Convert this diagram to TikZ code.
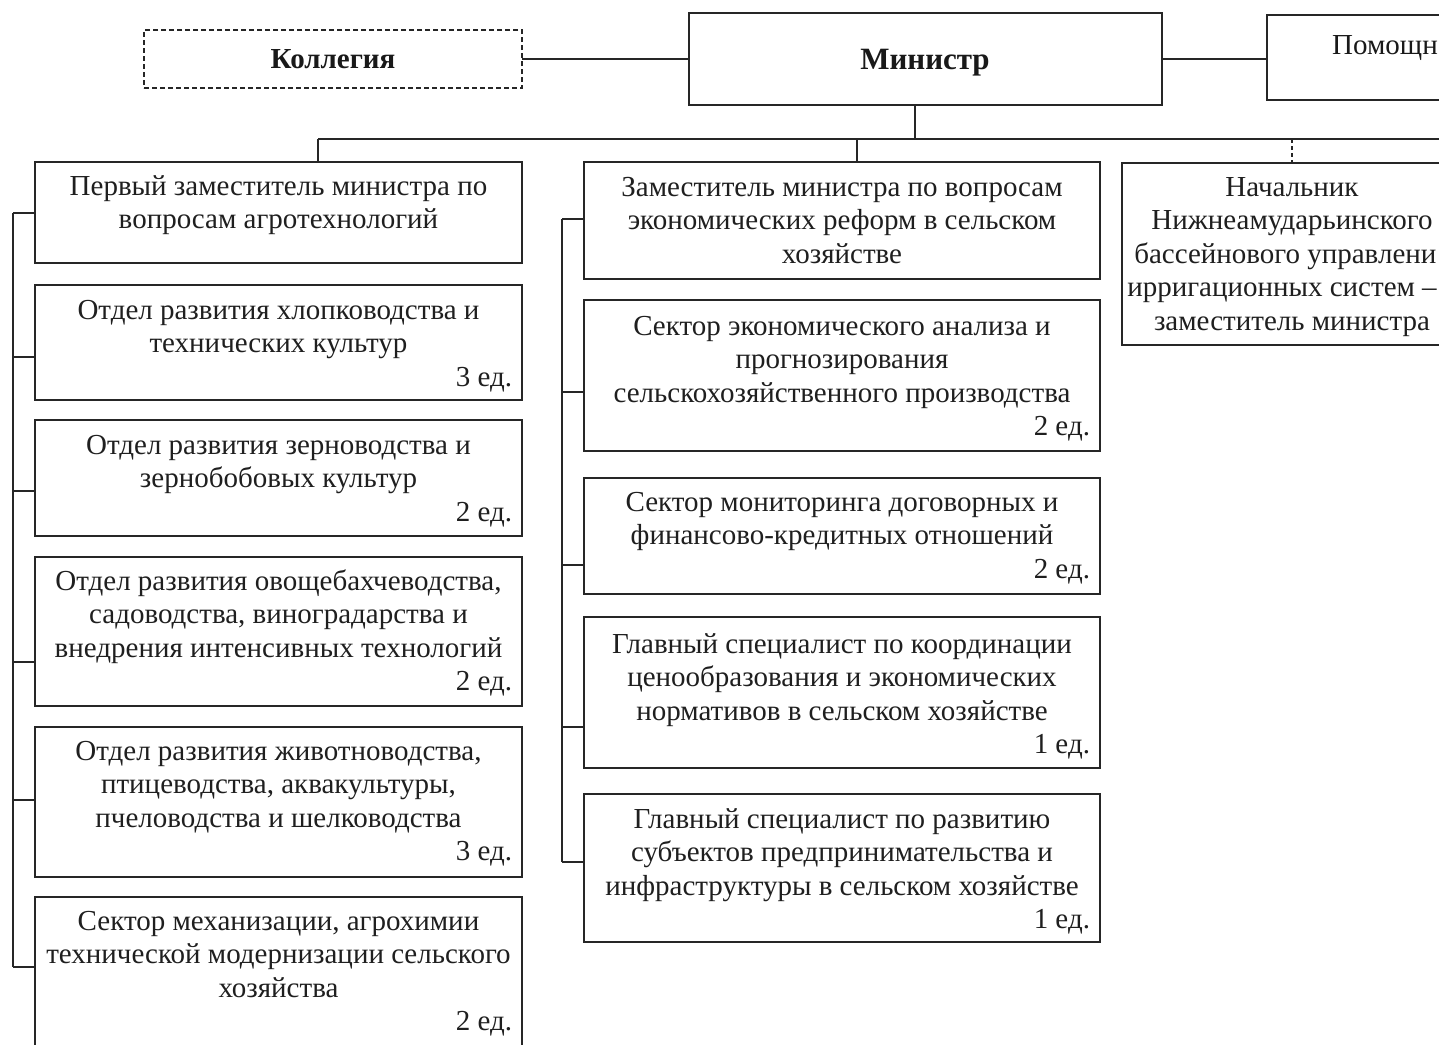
\documentclass[tikz,border=0pt]{standalone}
\usepackage{fontspec}
\setmainfont{Liberation Serif}
\newcommand\fl{\rule{0pt}{24pt}}
\newcommand\edL[1]{\makebox[467pt][r]{#1 ед.}}
\newcommand\edM[1]{\makebox[496pt][r]{#1 ед.}}
\newcommand\cutln[2]{\setbox0\hbox{#1}\makebox[\wd0][l]{#2}}
\newcommand\mkbox[6][box]{\node[#1, minimum width={#5-#3}, minimum height={#6-#4}] (#2) at (#3,#4) {};}
\begin{document}
\begin{tikzpicture}[x=1pt,y=-1pt,
 box/.style={draw=black!85, line width=1.6pt, rectangle, inner sep=0pt, outer sep=0pt, anchor=north west, fill=white},
 dbox/.style={box, dash pattern=on 5pt off 3pt, line width=1.7pt},
 txt/.style={align=center, inner sep=0pt, anchor=north, font=\fontsize{29}{33.5}\selectfont, text=black!88},
 ttl/.style={inner sep=0pt, anchor=base, font=\fontsize{29}{33.5}\selectfont\bfseries, text=black!90},
 conn/.style={draw=black!85, line width=1.6pt},
 dconn/.style={conn, dash pattern=on 4pt off 3pt},
]
\useasboundingbox (0,0) rectangle (1439,1044);
\fill[white] (0,0) rectangle (1439,1044);
\clip (0,0) rectangle (1439,1044);

% top row
\mkbox[dbox]{kol}{144}{30}{522}{88}
\mkbox{min}{689}{13}{1162}{105}
\mkbox{pom}{1267}{15}{1600}{100}
\mkbox{r}{1122}{163}{1462}{345}

% left column
\mkbox{l1}{35}{162}{522}{263}
\mkbox{l2}{35}{285}{522}{400}
\mkbox{l3}{35}{420}{522}{536}
\mkbox{l4}{35}{557}{522}{706}
\mkbox{l5}{35}{727}{522}{877}
\mkbox{l6}{35}{897}{522}{1060}

% middle column
\mkbox{m1}{584}{162}{1100}{279}
\mkbox{m2}{584}{300}{1100}{451}
\mkbox{m3}{584}{478}{1100}{594}
\mkbox{m4}{584}{617}{1100}{768}
\mkbox{m5}{584}{794}{1100}{942}

% titles
\node[ttl] (kolt) at (333,68) {Коллегия};
\node[ttl, font=\fontsize{31}{34}\selectfont\bfseries] (mint) at (925,69) {Министр};
\node[ttl, anchor=base west, font=\fontsize{29}{33.5}\selectfont] (pomt) at (1332,54) {Помощн};

% texts left
\node[txt] (l1t) at (278.5,171) {\fl Первый заместитель министра по\\вопросам агротехнологий};
\node[txt] (l2t) at (278.5,295) {\fl Отдел развития хлопководства и\\технических культур\\\edL{3}};
\node[txt] (l3t) at (278.5,430) {\fl Отдел развития зерноводства и\\зернобобовых культур\\\edL{2}};
\node[txt] (l4t) at (278.5,566) {\fl Отдел развития овощебахчеводства,\\садоводства, виноградарства и\\внедрения интенсивных технологий\\\edL{2}};
\node[txt] (l5t) at (278.5,736) {\fl Отдел развития животноводства,\\птицеводства, аквакультуры,\\пчеловодства и шелководства\\\edL{3}};
\node[txt] (l6t) at (278.5,906) {\fl Сектор механизации, агрохимии\\технической модернизации сельского\\хозяйства\\\edL{2}};

% texts middle
\node[txt] (m1t) at (842,172) {\fl Заместитель министра по вопросам\\экономических реформ в сельском\\хозяйстве};
\node[txt] (m2t) at (842,311) {\fl Сектор экономического анализа и\\прогнозирования\\сельскохозяйственного производства\\\edM{2}};
\node[txt] (m3t) at (842,487) {\fl Сектор мониторинга договорных и\\финансово-кредитных отношений\\\edM{2}};
\node[txt] (m4t) at (842,629) {\fl Главный специалист по координации\\ценообразования и экономических\\нормативов в сельском хозяйстве\\\edM{1}};
\node[txt] (m5t) at (842,804) {\fl Главный специалист по развитию\\субъектов предпринимательства и\\инфраструктуры в сельском хозяйстве\\\edM{1}};

% text right
\node[txt] (rt) at (1292,172) {\fl Начальник\\Нижнеамударьинского\\\cutln{бассейнового управления}{бассейнового управлени}\\\hspace*{-20pt}ирригационных систем –\\заместитель министра};

% connectors top
\draw[conn] (kol.east) -- (min.west);
\draw[conn] (min.east) -- (min.east -| pom.west);
\coordinate (busL) at (318,139);
\coordinate (busR) at (1460,139);
\draw[conn] (min.south -| 915,0) -- (915,139);
\draw[conn] (busL) -- (busR);
\draw[conn] (busL) -- (busL |- l1.north);
\draw[conn] (857,139) -- (857,162);
\draw[dconn] (r.north |- busL) -- (r.north);

% left bus
\coordinate (lt1) at (13,213);
\coordinate (lt2) at (13,357);
\coordinate (lt3) at (13,491);
\coordinate (lt4) at (13,662);
\coordinate (lt5) at (13,800);
\coordinate (lt6) at (13,967);
\draw[conn] (lt1) -- (lt6);
\foreach \i in {1,...,6}{\draw[conn] (lt\i) -- (lt\i -| l\i.west);}

% middle bus
\coordinate (mt1) at (562,219);
\coordinate (mt2) at (562,392);
\coordinate (mt3) at (562,565);
\coordinate (mt4) at (562,727);
\coordinate (mt5) at (562,862);
\draw[conn] (mt1) -- (mt5);
\foreach \i in {1,...,5}{\draw[conn] (mt\i) -- (mt\i -| m\i.west);}
\end{tikzpicture}
\end{document}
